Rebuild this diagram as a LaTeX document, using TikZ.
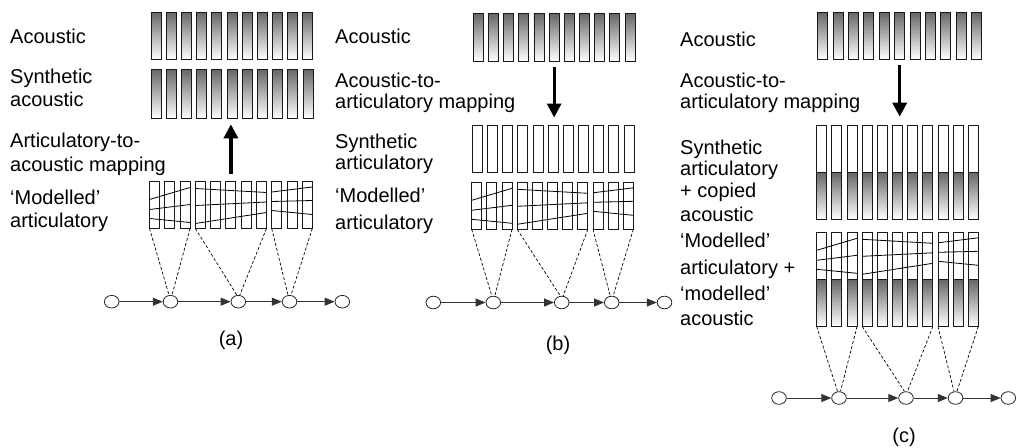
\documentclass[tikz,border=0pt]{standalone}
\usepackage{fontspec}
\setmainfont{Liberation Sans}
\usetikzlibrary{arrows.meta,shapes.geometric}

\tikzset{
  x=1pt, y=-1pt,
  txt/.style={anchor=base west, inner sep=0pt, font=\fontsize{20}{24}\selectfont},
  paneltag/.style={inner sep=0pt, font=\fontsize{20}{24}\selectfont},
  gradbar/.style={draw=black!90, line width=0.9pt, top color=black!60, bottom color=white},
  whitebar/.style={draw=black!90, line width=0.9pt, fill=white},
  traj/.style={black, line width=0.8pt},
  rowbox/.style={inner sep=0pt, outer sep=0pt, draw=none, rectangle},
  hmmstate/.style={ellipse, draw=black!85, fill=white, line width=0.8pt,
    minimum width=14.6pt, minimum height=12.6pt, inner sep=0pt},
  transarrow/.style={draw=black!80, line width=1pt, -{Triangle[length=10pt,width=8pt]}},
  mapping/.style={line width=3.2pt, -{Triangle[length=14pt,width=14pt]}},
  tieline/.style={line width=0.7pt, dash pattern=on 3pt off 2pt},
}

% width of one frame bar
\newcommand{\barW}{10}

% eleven frames: #1 name, #2 left, #3 right, #4 top, #5 bottom, #6 style
\newcommand{\framerow}[6]{%
  \pgfmathsetmacro{\bp}{(#3-#2-\barW)/10}%
  \foreach \k in {0,...,10}{%
    \pgfmathsetmacro{\bx}{#2+\k*\bp}%
    \path[#6] (\bx,#4) rectangle ({\bx+\barW},#5);%
  }%
  \node[rowbox, minimum width={#3-#2}, minimum height={#5-#4}] (#1) at ({(#2+#3)/2},{(#4+#5)/2}) {};%
}

% eleven frames, white on top and shaded below:
% #1 name, #2 left, #3 right, #4 top, #5 split, #6 bottom
\newcommand{\splitrow}[6]{%
  \pgfmathsetmacro{\bp}{(#3-#2-\barW)/10}%
  \foreach \k in {0,...,10}{%
    \pgfmathsetmacro{\bx}{#2+\k*\bp}%
    \ifdim #5pt<#6pt
      \path[gradbar] (\bx,#5) rectangle ({\bx+\barW},#6);%
    \fi
    \path[whitebar] (\bx,#4) rectangle ({\bx+\barW},#5);%
  }%
  \node[rowbox, minimum width={#3-#2}, minimum height={#6-#4}] (#1) at ({(#2+#3)/2},{(#4+#6)/2}) {};%
}

% modelled frames: three segments of 3, 5 and 3 frames with trajectories
% #1 name, #2 left, #3 right, #4 top, #5 split, #6 bottom
\newcommand{\modelrow}[6]{%
  \splitrow{#1}{#2}{#3}{#4}{#5}{#6}%
  \pgfmathsetmacro{\bp}{(#3-#2-\barW)/10}%
  \foreach \gi/\fa/\fb/\la/\ra/\lb/\rb/\lc/\rc in
     {1/0/2/18/6/28/23/37/41, 2/3/7/7/11/24/20.5/42/31, 3/8/10/10.5/5.5/20/19/29/33}{%
    \pgfmathsetmacro{\xa}{#2+\fa*\bp}%
    \pgfmathsetmacro{\xb}{#2+\fb*\bp+\barW}%
    \draw[traj] (\xa,#4+\la) -- (\xb,#4+\ra);%
    \draw[traj] (\xa,#4+\lb) -- (\xb,#4+\rb);%
    \draw[traj] (\xa,#4+\lc) -- (\xb,#4+\rc);%
    \coordinate (#1g\gi l) at (\xa,#6);%
    \coordinate (#1g\gi r) at (\xb,#6);%
  }%
}

\begin{document}
\begin{tikzpicture}
\fill[white] (0,0) rectangle (1017,447);
\useasboundingbox (0,0) rectangle (1017,447);

% ---------------- (a) ----------------
\node[txt] (aT1) at (10,43) {Acoustic};
\node[txt] (aT2) at (10,83) {Synthetic};
\node[txt] (aT3) at (10,106) {acoustic};
\node[txt] (aT4) at (10,147) {Articulatory-to-};
\node[txt] (aT5) at (10,171) {acoustic mapping};
\node[txt] (aT6) at (10,204) {‘Modelled’};
\node[txt] (aT7) at (10,227) {articulatory};

\framerow{aAc}{151.3}{312.8}{12}{59.3}{gradbar}
\framerow{aSyn}{151}{313}{69.3}{118.3}{gradbar}
\modelrow{aMod}{149.5}{312.3}{181.5}{228.5}{228.5}

\draw[mapping, shorten <=8pt, shorten >=6pt] (aMod.north) -- (aMod.north |- aSyn.south);

\node[hmmstate] (a1) at (111.7,301.7) {};
\node[hmmstate] (a2) at (170.5,301.7) {};
\node[hmmstate] (a3) at (238.3,301.7) {};
\node[hmmstate] (a4) at (289.5,301.7) {};
\node[hmmstate] (a5) at (342.3,301.7) {};
\foreach \p/\q in {a1/a2,a2/a3,a3/a4,a4/a5} \draw[transarrow] (\p) -- (\q);

\draw[tieline] (aModg1l) -- ([xshift=-1.5pt]a2.north);
\draw[tieline] (aModg1r) -- ([xshift=1.5pt]a2.north);
\draw[tieline] (aModg2l) -- ([xshift=-1.5pt]a3.north);
\draw[tieline] (aModg2r) -- ([xshift=1.5pt]a3.north);
\draw[tieline] (aModg3l) -- ([xshift=-1.5pt]a4.north);
\draw[tieline] (aModg3r) -- ([xshift=1.5pt]a4.north);

\node[paneltag] (aTag) at (231,340) {(a)};

% ---------------- (b) ----------------
\node[txt] (bT1) at (335,43) {Acoustic};
\node[txt] (bT2) at (335,87) {Acoustic-to-};
\node[txt] (bT3) at (335,108) {articulatory mapping};
\node[txt] (bT4) at (335,148) {Synthetic};
\node[txt] (bT5) at (335,169) {articulatory};
\node[txt] (bT6) at (335,202) {‘Modelled’};
\node[txt] (bT7) at (335,229) {articulatory};

\framerow{bAc}{473.3}{635}{13.3}{61}{gradbar}
\framerow{bSyn}{472.3}{634}{125}{172.7}{whitebar}
\modelrow{bMod}{471.7}{633.3}{182.3}{229.3}{229.3}

\draw[mapping, shorten <=5.5pt, shorten >=7.5pt] (bAc.south) -- (bAc.south |- bSyn.north);

\node[hmmstate] (b1) at (433.3,302.5) {};
\node[hmmstate] (b2) at (493.3,302.5) {};
\node[hmmstate] (b3) at (561.7,302.5) {};
\node[hmmstate] (b4) at (611.7,302.5) {};
\node[hmmstate] (b5) at (664.5,302.5) {};
\foreach \p/\q in {b1/b2,b2/b3,b3/b4,b4/b5} \draw[transarrow] (\p) -- (\q);

\draw[tieline] (bModg1l) -- ([xshift=-1.5pt]b2.north);
\draw[tieline] (bModg1r) -- ([xshift=1.5pt]b2.north);
\draw[tieline] (bModg2l) -- ([xshift=-1.5pt]b3.north);
\draw[tieline] (bModg2r) -- ([xshift=1.5pt]b3.north);
\draw[tieline] (bModg3l) -- ([xshift=-1.5pt]b4.north);
\draw[tieline] (bModg3r) -- ([xshift=1.5pt]b4.north);

\node[paneltag] (bTag) at (558,345) {(b)};

% ---------------- (c) ----------------
\node[txt] (cT1) at (680,46) {Acoustic};
\node[txt] (cT2) at (680,87) {Acoustic-to-};
\node[txt] (cT3) at (680,108) {articulatory mapping};
\node[txt] (cT4) at (680,154) {Synthetic};
\node[txt] (cT5) at (680,175) {articulatory};
\node[txt] (cT6) at (680,197) {+ copied};
\node[txt] (cT7) at (680,221) {acoustic};
\node[txt] (cT8) at (680,247) {‘Modelled’};
\node[txt] (cT9) at (680,274) {articulatory +};
\node[txt] (cT10) at (680,300) {‘modelled’};
\node[txt] (cT11) at (680,325) {acoustic};

\framerow{cAc}{817.7}{981.7}{12.3}{59.3}{gradbar}
\splitrow{cSyn}{816.7}{978.3}{125}{172.3}{219}
\modelrow{cMod}{816.7}{978.3}{232.3}{279.3}{326.5}

\draw[mapping, shorten <=6pt, shorten >=8.3pt] (cAc.south) -- (cAc.south |- cSyn.north);

\node[hmmstate] (c1) at (779,398) {};
\node[hmmstate] (c2) at (839,398) {};
\node[hmmstate] (c3) at (906,398) {};
\node[hmmstate] (c4) at (955.5,398) {};
\node[hmmstate] (c5) at (1008.3,398) {};
\foreach \p/\q in {c1/c2,c2/c3,c3/c4,c4/c5} \draw[transarrow] (\p) -- (\q);

\draw[tieline] (cModg1l) -- ([xshift=-1.5pt]c2.north);
\draw[tieline] (cModg1r) -- ([xshift=1.5pt]c2.north);
\draw[tieline] (cModg2l) -- ([xshift=-1.5pt]c3.north);
\draw[tieline] (cModg2r) -- ([xshift=1.5pt]c3.north);
\draw[tieline] (cModg3l) -- ([xshift=-1.5pt]c4.north);
\draw[tieline] (cModg3r) -- ([xshift=1.5pt]c4.north);

\node[paneltag] (cTag) at (904,437) {(c)};
\end{tikzpicture}
\end{document}
